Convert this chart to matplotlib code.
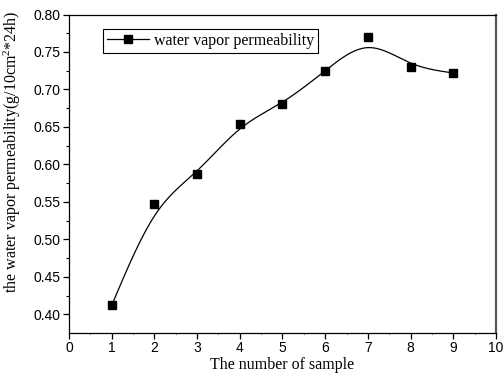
import matplotlib
matplotlib.use("Agg")
import matplotlib.pyplot as plt
import numpy as np

sample = [1, 2, 3, 4, 5, 6, 7, 8, 9]
permeability = [0.412, 0.547, 0.587, 0.654, 0.680, 0.725, 0.770, 0.730, 0.722]
x_ticks = [0, 1, 2, 3, 4, 5, 6, 7, 8, 9, 10]
y_ticks = [0.40, 0.45, 0.50, 0.55, 0.60, 0.65, 0.70, 0.75, 0.80]

plt.rcParams["font.family"] = "Liberation Sans"
plt.rcParams["mathtext.fontset"] = "custom"
plt.rcParams["mathtext.rm"] = "Liberation Serif"
plt.rcParams["mathtext.it"] = "Liberation Serif:italic"


def bspline(xs, ys, n=40):
    # uniform cubic B-spline with reflected end points so it starts/ends on the data
    px = np.r_[2 * xs[0] - xs[1], xs, 2 * xs[-1] - xs[-2]]
    py = np.r_[2 * ys[0] - ys[1], ys, 2 * ys[-1] - ys[-2]]
    t = np.linspace(0, 1, n)
    b0 = (1 - t) ** 3 / 6
    b1 = (3 * t**3 - 6 * t**2 + 4) / 6
    b2 = (-3 * t**3 + 3 * t**2 + 3 * t + 1) / 6
    b3 = t**3 / 6
    cx, cy = [], []
    for i in range(len(px) - 3):
        cx.append(b0 * px[i] + b1 * px[i + 1] + b2 * px[i + 2] + b3 * px[i + 3])
        cy.append(b0 * py[i] + b1 * py[i + 1] + b2 * py[i + 2] + b3 * py[i + 3])
    return np.concatenate(cx), np.concatenate(cy)


xs = np.array(sample, dtype=float)
ys = np.array(permeability)
sx, sy = bspline(xs, ys)

fig = plt.figure(figsize=(5.04, 3.76), dpi=100)
ax = fig.add_axes([0.137, 0.1144, 0.847, 0.847])

ax.plot(sx, sy, color="black", lw=0.9)
ax.plot(xs, ys, ls="none", marker="s", ms=6, color="black")
# legend handle: line with square marker
ax.plot([], [], color="black", lw=0.9, marker="s", ms=6, label="water vapor permeability")

ax.set_xlim(0, 10)
ax.set_ylim(0.375, 0.80)
ax.set_xticks(x_ticks)
ax.set_yticks(y_ticks)
ax.set_xticklabels([str(v) for v in x_ticks], fontsize=10)
ax.set_yticklabels([f"{v:.2f}" for v in y_ticks], fontsize=10)
ax.set_xticks(np.arange(0.5, 10, 1), minor=True)
ax.set_yticks(np.arange(0.425, 0.80, 0.05), minor=True)
ax.tick_params(which="major", direction="out", length=4, width=0.9, pad=2)
ax.tick_params(axis="y", which="minor", direction="out", length=2.5, width=0.8)
ax.tick_params(axis="x", which="minor", direction="out", length=1, width=0.8)

for s in ax.spines.values():
    s.set_linewidth(0.9)
ax.spines["right"].set_color("#555555")
ax.spines["right"].set_linewidth(1.6)

ax.set_xlabel("The number of sample", family="Liberation Serif", fontsize=11.5, labelpad=1)
ax.set_ylabel(r"the water vapor permeability(g/10cm$^2$*24h)", family="Liberation Serif",
              fontsize=11.5, labelpad=5)
ax.yaxis.set_label_coords(-0.108, 0.57)

leg = ax.legend(loc="upper left", bbox_to_anchor=(0.08, 0.955), prop={"family": "Liberation Serif", "size": 11.5},
                fancybox=False, edgecolor="black", framealpha=1, borderpad=0.25, handlelength=2.6,
                handletextpad=0.3, borderaxespad=0)
leg.get_frame().set_linewidth(0.8)

fig.savefig("out.png", dpi=100)
